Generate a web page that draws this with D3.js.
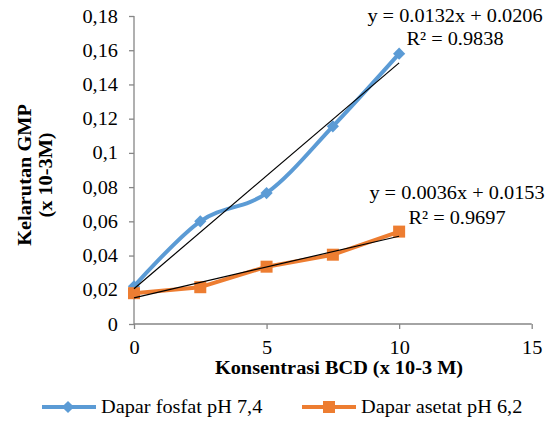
<!DOCTYPE html>
<html><head><meta charset="utf-8">
<script src="https://cdn.jsdelivr.net/npm/d3@7"></script>
<style>body{margin:0;background:#fff}svg{display:block}
svg text{font-family:"Liberation Serif","Tinos","Times New Roman","DejaVu Serif",serif !important;}</style>
</head><body>
<script>
const xValues = [0, 2.5, 5, 7.5, 10];
const fosfat = [0.022, 0.060, 0.0765, 0.1155, 0.158];
const asetat = [0.018, 0.0215, 0.0335, 0.0405, 0.054];
const trendFosfat = {slope: 0.0132, intercept: 0.0206};
const trendAsetat = {slope: 0.0036, intercept: 0.0153};
const yTicks = [0, 0.02, 0.04, 0.06, 0.08, 0.1, 0.12, 0.14, 0.16, 0.18];
const xTicks = [0, 5, 10, 15];
const seriesNames = ["Dapar fosfat pH 7,4", "Dapar asetat pH 6,2"];
const eqLabels = [["y = 0.0132x + 0.0206", "R² = 0.9838"], ["y = 0.0036x + 0.0153", "R² = 0.9697"]];

const W = 550, H = 423;
const FS = 19, SX = 1.07;
const svg = d3.select("body").append("svg").attr("width", W).attr("height", H);
const x = d3.scaleLinear().domain([0, 15]).range([134, 531.7]);
const y = d3.scaleLinear().domain([0, 0.18]).range([324, 16]);
const blue = "#5B9BD5", orange = "#ED7D31", axisCol = "#868686";

function label(px, py, txt, anchor, bold, rot) {
  return svg.append("text")
    .attr("transform", `translate(${px},${py})${rot ? " rotate(" + rot + ")" : ""} scale(${SX},1)`)
    .attr("text-anchor", anchor || "start")
    .attr("font-size", FS).attr("font-weight", bold ? "bold" : null)
    .text(txt);
}

const fmt = d => String(+d.toFixed(2)).replace(".", ",");
const yAxis = svg.append("g").attr("transform", `translate(${x(0)},0)`)
  .call(d3.axisLeft(y).tickValues(yTicks).tickFormat(fmt).tickSize(5).tickPadding(11));
const xAxis = svg.append("g").attr("transform", `translate(0,${y(0)})`)
  .call(d3.axisBottom(x).tickValues(xTicks).tickFormat(d => d).tickSize(5).tickPadding(12));
[yAxis, xAxis].forEach(g => {
  g.attr("font-family", null);
  g.select(".domain").attr("stroke", axisCol).attr("stroke-width", 1.3);
  g.selectAll(".tick line").attr("stroke", axisCol).attr("stroke-width", 1.3);
  g.selectAll("text").attr("font-size", FS).attr("fill", "#000");
});
yAxis.selectAll(".tick text").attr("transform", `scale(${SX},1)`).attr("x", -16 / SX);
xAxis.selectAll(".tick text").attr("transform", `scale(${SX},1)`);
yAxis.select(".domain").attr("d", `M0,${y(0.18)}V${y(0)}`);
xAxis.select(".domain").attr("d", `M${x(0)},0H${x(15)}`);

const pts = vals => xValues.map((v, i) => [x(v), y(vals[i])]);

svg.append("path").attr("d", d3.line().curve(d3.curveCatmullRom.alpha(0))(pts(fosfat)))
  .attr("fill", "none").attr("stroke", blue).attr("stroke-width", 4).attr("stroke-linejoin", "round");
svg.append("path").attr("d", d3.line()(pts(asetat)))
  .attr("fill", "none").attr("stroke", orange).attr("stroke-width", 4).attr("stroke-linejoin", "round");

svg.append("g").selectAll("path").data(pts(fosfat)).join("path")
  .attr("d", d3.symbol(d3.symbolDiamond2 || d3.symbolDiamond, 95)())
  .attr("transform", d => `translate(${d[0]},${d[1]})`)
  .attr("fill", blue);
svg.append("g").selectAll("rect").data(pts(asetat)).join("rect")
  .attr("x", d => d[0] - 6).attr("y", d => d[1] - 6).attr("width", 12).attr("height", 12)
  .attr("fill", orange);

[trendFosfat, trendAsetat].forEach(t => {
  svg.append("line")
    .attr("x1", x(0)).attr("y1", y(t.intercept))
    .attr("x2", x(10)).attr("y2", y(t.intercept + t.slope * 10))
    .attr("stroke", "#000").attr("stroke-width", 1.2);
});

const eqPos = [[455, 22, 45], [457, 199, 224]];
eqLabels.forEach((lab, i) => {
  const p = eqPos[i];
  label(p[0], p[1], lab[0], "middle");
  label(p[0], p[2], lab[1], "middle");
});

label(339, 374, "Konsentrasi BCD (x 10-3 M)", "middle", true);
label(31, 175, "Kelarutan GMP", "middle", true, -90);
label(52, 175, "(x 10-3M)", "middle", true, -90);

const leg = [{c: blue, m: "diamond", x0: 42, name: seriesNames[0]}, {c: orange, m: "square", x0: 302, name: seriesNames[1]}];
leg.forEach(l => {
  const ly = 407;
  svg.append("line").attr("x1", l.x0).attr("x2", l.x0 + 54).attr("y1", ly).attr("y2", ly)
    .attr("stroke", l.c).attr("stroke-width", 4);
  if (l.m === "diamond") {
    svg.append("path").attr("d", d3.symbol(d3.symbolDiamond2 || d3.symbolDiamond, 95)())
      .attr("transform", `translate(${l.x0 + 26},${ly})`).attr("fill", l.c);
  } else {
    svg.append("rect").attr("x", l.x0 + 21).attr("y", ly - 6).attr("width", 12).attr("height", 12).attr("fill", l.c);
  }
  label(l.x0 + 59, 413, l.name, "start");
});
</script>
</body></html>
